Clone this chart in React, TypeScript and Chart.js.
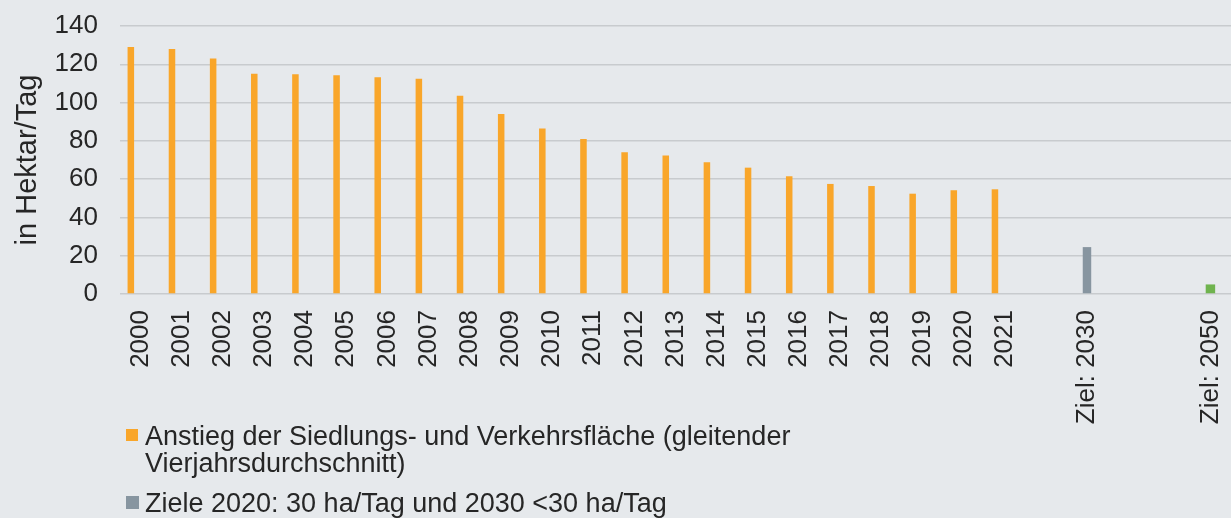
import React, { useEffect, useRef } from 'react';
import { Chart, registerables } from 'chart.js';

Chart.register(...registerables);

// ---- Data ----
const categories = [
  '2000', '2001', '2002', '2003', '2004', '2005', '2006', '2007', '2008', '2009', '2010',
  '2011', '2012', '2013', '2014', '2015', '2016', '2017', '2018', '2019', '2020', '2021',
  '', 'Ziel: 2030', '', '', 'Ziel: 2050',
];
const settlementYears = [
  '2000', '2001', '2002', '2003', '2004', '2005', '2006', '2007', '2008', '2009', '2010',
  '2011', '2012', '2013', '2014', '2015', '2016', '2017', '2018', '2019', '2020', '2021',
];
const settlementValues = [
  129, 128, 123, 115, 114.8, 114.3, 113.2, 112.5, 103.5, 94, 86.5,
  81, 74, 72.3, 68.8, 66, 61.5, 57.5, 56.4, 52.4, 54.2, 54.7,
];
const target2030Labels = ['Ziel: 2030'];
const target2030Values = [24.5];
const target2050Labels = ['Ziel: 2050'];
const target2050Values = [5];

const seriesNames = [
  'Anstieg der Siedlungs- und Verkehrsfläche (gleitender Vierjahrsdurchschnitt)',
  'Ziele 2020: 30 ha/Tag und 2030 <30 ha/Tag',
  'Ziel 2050',
];
const seriesColors = ['#f9a62a', '#8795a0', '#6fb34e'];
const yTitle = 'in Hektar/Tag';
const yMin = 0;
const yMax = 140;
const yStep = 20;

const TEXT = '#262626';
const FONT = "'Liberation Sans', Arial, Helvetica, sans-serif";

function mapTo(labels: string[], values: number[]) {
  return categories.map((c) => {
    const i = labels.indexOf(c);
    return i >= 0 ? values[i] : null;
  });
}

export default function App() {
  const ref = useRef<HTMLCanvasElement | null>(null);

  useEffect(() => {
    document.body.style.margin = '0';
    if (!ref.current) return;
    Chart.defaults.font.family = FONT;
    const chart = new Chart(ref.current, {
      type: 'bar',
      data: {
        labels: categories,
        datasets: [
          {
            label: seriesNames[0],
            data: mapTo(settlementYears, settlementValues),
            backgroundColor: seriesColors[0],
            stack: 'a',
            barPercentage: 0.67,
            categoryPercentage: 0.71,
          },
          {
            label: seriesNames[1],
            data: mapTo(target2030Labels, target2030Values),
            backgroundColor: seriesColors[1],
            stack: 'b',
            barPercentage: 0.87,
            categoryPercentage: 0.71,
          },
          {
            label: seriesNames[2],
            data: mapTo(target2050Labels, target2050Values),
            backgroundColor: seriesColors[2],
            stack: 'b',
            barPercentage: 0.97,
            categoryPercentage: 0.71,
          },
          {
            label: '',
            data: categories.map(() => null),
            backgroundColor: 'rgba(0,0,0,0)',
            stack: 'c',
            categoryPercentage: 0.71,
          },
        ],
      },
      options: {
        animation: false,
        responsive: false,
        maintainAspectRatio: false,
        layout: { padding: { top: 26, right: 0, left: 0, bottom: 0 } },
        plugins: { legend: { display: false }, tooltip: { enabled: false } },
        scales: {
          x: {
            stacked: true,
            grid: { display: false, drawTicks: false },
            border: { display: false },
            ticks: {
              autoSkip: false,
              maxRotation: 90,
              minRotation: 90,
              padding: 16,
              color: TEXT,
              font: { size: 26, family: FONT },
            },
            afterFit: (s: any) => {
              s.height = 224;
              s.paddingLeft = 0;
              s.paddingRight = 0;
            },
          },
          y: {
            stacked: false,
            min: yMin,
            max: yMax,
            ticks: { stepSize: yStep, padding: 22, color: TEXT, font: { size: 26, family: FONT } },
            grid: { color: '#c8cbce', lineWidth: 1.5, drawTicks: false },
            border: { display: false },
            title: {
              display: true,
              text: yTitle,
              color: TEXT,
              font: { size: 29, family: FONT },
              padding: { top: 11, bottom: 6 },
            },
            afterFit: (s: any) => {
              s.width = 120;
              s.paddingTop = 0;
              s.paddingBottom = 0;
            },
          },
        },
      },
    });
    return () => chart.destroy();
  }, []);

  const textStyle: React.CSSProperties = {
    position: 'absolute',
    left: 145,
    width: 700,
    fontFamily: FONT,
    fontSize: 27,
    lineHeight: '27px',
    color: TEXT,
  };

  return (
    <div style={{ position: 'relative', width: 1231, height: 518, background: '#e6e9ec', overflow: 'hidden' }}>
      <canvas ref={ref} width={1231} height={518} style={{ position: 'absolute', left: 0, top: 0, display: 'block' }} />
      <div style={{ position: 'absolute', left: 126, top: 429, width: 12, height: 12, background: seriesColors[0] }} />
      <div style={{ ...textStyle, top: 423 }}>{seriesNames[0]}</div>
      <div style={{ position: 'absolute', left: 126, top: 496, width: 13, height: 13, background: seriesColors[1] }} />
      <div style={{ ...textStyle, top: 490 }}>{seriesNames[1]}</div>
    </div>
  );
}
